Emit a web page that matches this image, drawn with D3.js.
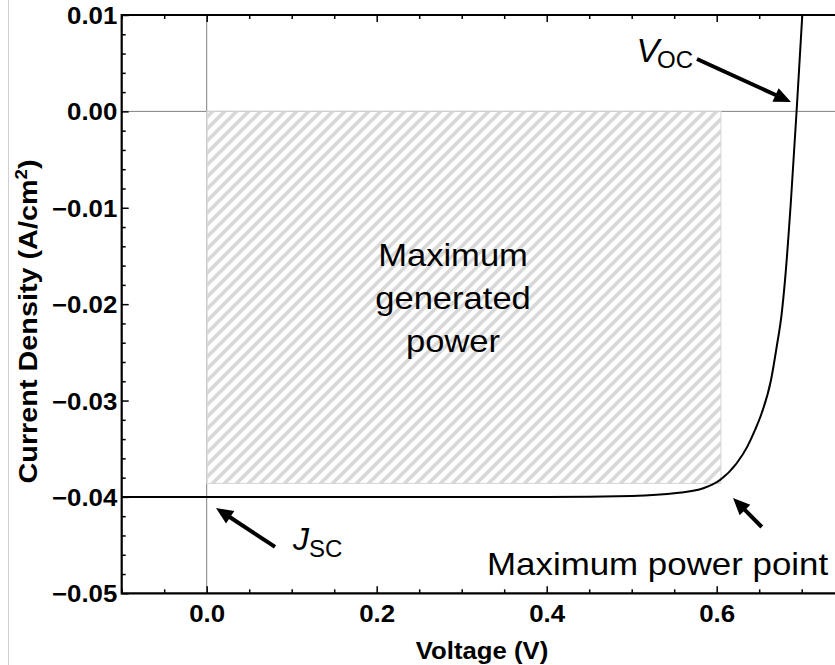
<!DOCTYPE html>
<html><head><meta charset="utf-8">
<script src="https://cdn.jsdelivr.net/npm/d3@7"></script>
<style>body{margin:0;background:#fff} svg{display:block}</style>
</head><body><svg id="c" width="835" height="665"></svg>
<script>
// ---- data ----
const voltage = [-0.1, 0, 0.1, 0.2, 0.3, 0.4, 0.5, 0.5529, 0.5843, 0.6039, 0.6235, 0.6360, 0.6451, 0.6529, 0.6639, 0.6706, 0.6765, 0.6804, 0.6874, 0.6948, 0.7007, 0.705];
const current = [-0.0400, -0.0400, -0.0400, -0.0400, -0.0400, -0.0400, -0.0399, -0.0396, -0.0391, -0.03824, -0.03651, -0.03478, -0.03305, -0.03132, -0.02787, -0.02441, -0.02095, -0.01749, -0.0092, 0.0012, 0.0100, 0.0160];
const mppVoltage = 0.605;
const mppCurrent = -0.0386;
const xTickValues = [0, 0.2, 0.4, 0.6];
const xTickLabels = ["0.0", "0.2", "0.4", "0.6"];
const yTickValues = [0.01, 0, -0.01, -0.02, -0.03, -0.04, -0.05];
const yTickLabels = ["0.01", "0.00", "\u22120.01", "\u22120.02", "\u22120.03", "\u22120.04", "\u22120.05"];
const arrowFromV = [0.5768, 0.0804, 0.653];
const arrowFromJ = [0.00544, -0.04519, -0.04312];
const arrowToV = [0.6874, 0.0109, 0.6192];
const arrowToJ = [0.00097, -0.04115, -0.04011];

const svg = d3.select("#c");
const x = d3.scaleLinear().domain([-0.1, 0.75]).range([121.7, 844.2]);
const y = d3.scaleLinear().domain([-0.05, 0.01]).range([593.3, 15]);
const FONT = "'Liberation Sans', Arial, Helvetica, sans-serif";

// thin gray line at far left
svg.append("line").attr("x1", 8.5).attr("x2", 8.5).attr("y1", 0).attr("y2", 665)
  .attr("stroke", "#d0d0d0").attr("stroke-width", 1);

// hatch pattern
const defs = svg.append("defs");
const pat = defs.append("pattern").attr("id", "hatch").attr("patternUnits", "userSpaceOnUse")
  .attr("width", 12).attr("height", 12);
pat.append("path").attr("d", "M0,12 L12,0 M-3,3 L3,-3 M9,15 L15,9")
  .attr("stroke", "#d8d8d8").attr("stroke-width", 3.6);
defs.append("clipPath").attr("id", "plotclip").append("rect")
  .attr("x", x(-0.1)).attr("y", y(0.01)).attr("width", x(0.75) - x(-0.1)).attr("height", y(-0.05) - y(0.01));

const plot = svg.append("g").attr("clip-path", "url(#plotclip)");

// zero lines
plot.append("line").attr("x1", x(0)).attr("x2", x(0)).attr("y1", y(0.01)).attr("y2", y(-0.05))
  .attr("stroke", "#808080").attr("stroke-width", 1);
plot.append("line").attr("x1", x(-0.1)).attr("x2", x(0.75)).attr("y1", y(0)).attr("y2", y(0))
  .attr("stroke", "#808080").attr("stroke-width", 1);

// max power rectangle
plot.append("rect").attr("x", x(0)).attr("y", y(0))
  .attr("width", x(mppVoltage) - x(0)).attr("height", y(mppCurrent) - y(0))
  .attr("fill", "url(#hatch)").attr("stroke", "#d6d6d6").attr("stroke-width", 1);

// J-V curve
const pts = voltage.map((v, i) => [v, current[i]]);
plot.append("path").datum(pts)
  .attr("d", d3.line().x(d => x(d[0])).y(d => y(d[1])).curve(d3.curveMonotoneX))
  .attr("fill", "none").attr("stroke", "#000").attr("stroke-width", 2);

// axes
const minorX = d3.range(-0.1, 0.751, 0.05).filter(v => !xTickValues.some(t => Math.abs(t - v) < 1e-6));
const minorY = d3.range(-0.05, 0.0101, 0.002).filter(v => !yTickValues.some(t => Math.abs(t - v) < 1e-6));

function styleAxis(g) {
  g.select(".domain").remove();
  g.selectAll(".tick line").attr("stroke", "#000").attr("stroke-width", 1.5);
  g.selectAll(".tick text").attr("font-family", FONT).attr("font-weight", "bold")
    .attr("font-size", 23.5).attr("fill", "#000");
}
const gb = svg.append("g").attr("transform", `translate(0,${y(-0.05)})`)
  .call(d3.axisBottom(x).tickValues(xTickValues).tickFormat((d, i) => xTickLabels[i]).tickSize(-7).tickPadding(12.3));
styleAxis(gb);
gb.selectAll(".tick text").attr("transform", "scale(1.1,1)");
const gbm = svg.append("g").attr("transform", `translate(0,${y(-0.05)})`)
  .call(d3.axisBottom(x).tickValues(minorX).tickFormat("").tickSize(-4));
styleAxis(gbm);
const gt = svg.append("g").attr("transform", `translate(0,${y(0.01)})`)
  .call(d3.axisTop(x).tickValues(xTickValues).tickFormat("").tickSize(-7));
styleAxis(gt);
const gtm = svg.append("g").attr("transform", `translate(0,${y(0.01)})`)
  .call(d3.axisTop(x).tickValues(minorX).tickFormat("").tickSize(-4));
styleAxis(gtm);
const gl = svg.append("g").attr("transform", `translate(${x(-0.1)},0)`)
  .call(d3.axisLeft(y).tickValues(yTickValues).tickFormat((d, i) => yTickLabels[i]).tickSize(-7).tickPadding(4));
styleAxis(gl);
gl.selectAll(".tick text").attr("dy", "0.36em").attr("transform", "scale(1.1,1)");
const glm = svg.append("g").attr("transform", `translate(${x(-0.1)},0)`)
  .call(d3.axisLeft(y).tickValues(minorY).tickFormat("").tickSize(-4));
styleAxis(glm);

// frame lines (left, top, bottom)
svg.append("path")
  .attr("d", `M${x(0.75)},${y(0.01)} H${x(-0.1)} V${y(-0.05)} H${x(0.75)}`)
  .attr("fill", "none").attr("stroke", "#000").attr("stroke-width", 2.2);

// axis titles
svg.append("text").attr("transform", "translate(482,659) scale(1.05,1)")
  .attr("text-anchor", "middle").attr("font-family", FONT).attr("font-weight", "bold")
  .attr("font-size", 24.5).text("Voltage (V)");
const yl = svg.append("text").attr("transform", "translate(37,321.5) rotate(-90) scale(1.13,1)")
  .attr("text-anchor", "middle").attr("font-family", FONT).attr("font-weight", "bold").attr("font-size", 25.5);
yl.append("tspan").text("Current Density (A/cm");
yl.append("tspan").attr("font-size", 16.5).attr("dy", -10).text("2");
yl.append("tspan").attr("dy", 10).text(")");

// annotations
const ann = svg.append("g").attr("font-family", FONT).attr("fill", "#000");
const mgp = ["Maximum", "generated", "power"];
const mgpJ = [-0.01604, -0.02050, -0.02496];
mgp.forEach((s, i) => {
  ann.append("text").attr("transform", `translate(${x(0.2898)},${y(mgpJ[i])}) scale(1.08,1)`)
    .attr("text-anchor", "middle").attr("font-size", 32).text(s);
});
ann.append("text").attr("transform", `translate(${x(0.3298)},${y(-0.0481)}) scale(1.09,1)`)
  .attr("font-size", 32).text("Maximum power point");
const voc = ann.append("text").attr("transform", `translate(${x(0.5055)},${y(0.00512)})`);
voc.append("tspan").attr("font-style", "italic").attr("font-size", 34).text("V");
voc.append("tspan").attr("font-size", 24).attr("dx", -2).attr("dy", 6).text("OC");
const jsc = ann.append("text").attr("transform", `translate(${x(0.1015)},${y(-0.0455)})`);
jsc.append("tspan").attr("font-style", "italic").attr("font-size", 32).text("J");
jsc.append("tspan").attr("font-size", 24).attr("dx", 0).attr("dy", 7).text("SC");

// arrows
arrowFromV.forEach((v, i) => {
  const x1 = x(v), y1 = y(arrowFromJ[i]), x2 = x(arrowToV[i]), y2 = y(arrowToJ[i]);
  const dx = x2 - x1, dy = y2 - y1, L = Math.hypot(dx, dy);
  const ux = dx / L, uy = dy / L, hl = 17, hw = 7.5;
  const bx = x2 - ux * hl, by = y2 - uy * hl;
  ann.append("line").attr("x1", x1).attr("y1", y1).attr("x2", bx + ux * 2).attr("y2", by + uy * 2)
    .attr("stroke", "#000").attr("stroke-width", 4);
  ann.append("path")
    .attr("d", `M${x2},${y2} L${bx - uy * hw},${by + ux * hw} L${bx + uy * hw},${by - ux * hw} Z`)
    .attr("fill", "#000");
});
</script></body></html>
